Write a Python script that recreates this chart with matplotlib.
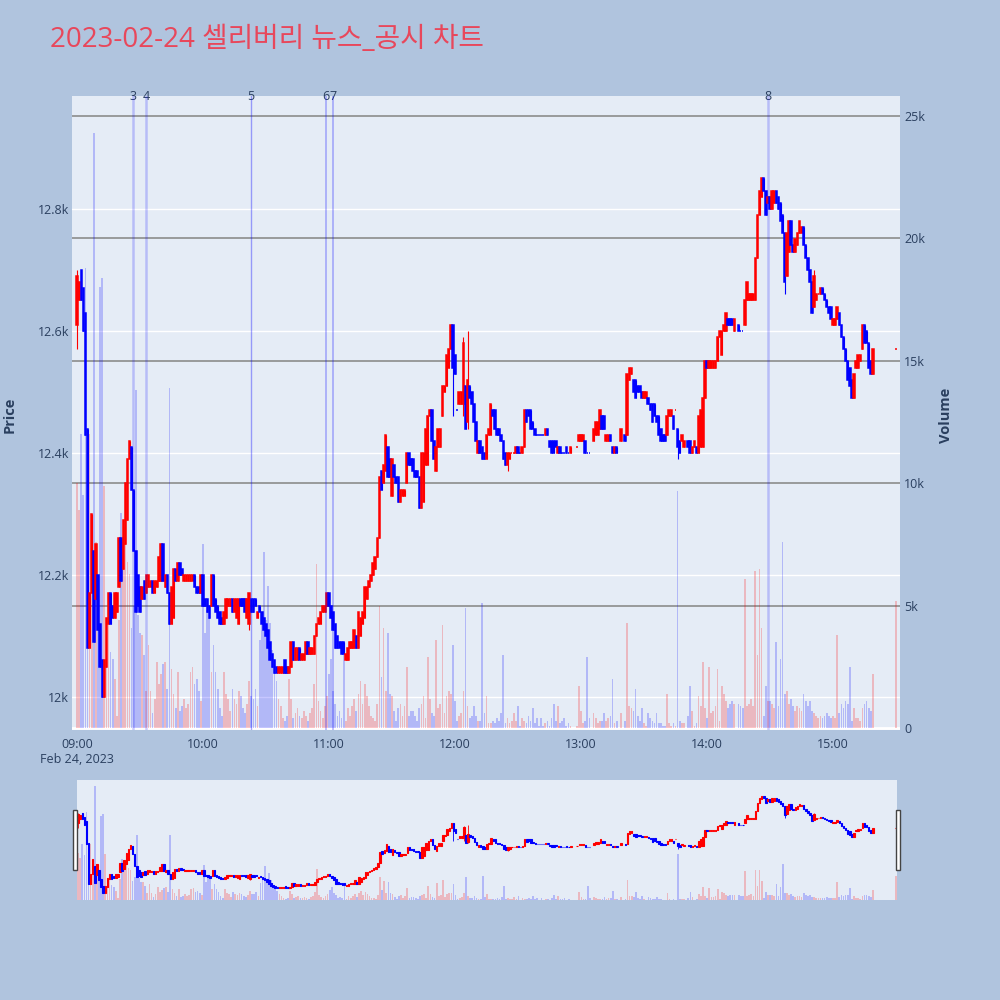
import matplotlib.pyplot as plt
import matplotlib.transforms as mtransforms
from matplotlib.patches import Rectangle

plt.rcParams['font.family'] = ['Open Sans', 'Noto Sans CJK KR', 'DejaVu Sans']

title = '2023-02-24 셀리버리 뉴스_공시 차트'

# minutes after 09:00, one-minute candles (15:30 closing auction at the end)
minutes = list(range(380)) + [390]

opens = [
    12610, 12650, 12700, 12670, 12630, 12440, 12080, 12170, 12240, 12160,
    12200, 12120, 12060, 12000, 12050, 12120, 12170, 12150, 12130, 12140,
    12180, 12260, 12210, 12250, 12290, 12390, 12410, 12340, 12240, 12200,
    12180, 12160, 12190, 12170, 12180, 12180, 12190, 12170, 12180, 12190,
    12190, 12250, 12180, 12200, 12170, 12120, 12130, 12210, 12190, 12220,
    12210, 12190, 12190, 12190, 12190, 12190, 12200, 12180, 12180, 12170,
    12200, 12160, 12160, 12150, 12150, 12200, 12160, 12150, 12140, 12130,
    12120, 12130, 12150, 12150, 12160, 12140, 12130, 12120, 12160, 12160,
    12160, 12130, 12120, 12160, 12160, 12160, 12130, 12150, 12140, 12130,
    12120, 12110, 12090, 12070, 12060, 12050, 12040, 12040, 12040, 12060,
    12050, 12040, 12050, 12090, 12060, 12060, 12080, 12060, 12060, 12070,
    12090, 12070, 12070, 12070, 12100, 12120, 12120, 12140, 12140, 12150,
    12170, 12150, 12140, 12120, 12100, 12090, 12090, 12090, 12060, 12060,
    12080, 12080, 12080, 12100, 12080, 12100, 12120, 12130, 12160, 12180,
    12190, 12200, 12210, 12230, 12260, 12370, 12350, 12370, 12410, 12390,
    12330, 12380, 12360, 12360, 12320, 12330, 12330, 12350, 12400, 12390,
    12390, 12370, 12370, 12360, 12310, 12320, 12380, 12380, 12460, 12470,
    12420, 12370, 12410, 12410, 12460, 12500, 12510, 12540, 12570, 12610,
    12560, 12470, 12480, 12480, 12480, 12510, 12450, 12510, 12500, 12480,
    12450, 12400, 12420, 12410, 12400, 12390, 12430, 12430, 12470, 12470,
    12440, 12440, 12430, 12420, 12400, 12380, 12390, 12400, 12400, 12400,
    12410, 12400, 12400, 12410, 12470, 12470, 12470, 12450, 12440, 12430,
    12430, 12430, 12430, 12430, 12440, 12420, 12420, 12420, 12420, 12400,
    12410, 12400, 12400, 12410, 12400, 12400, None, None, 12410, 12420,
    12420, 12420, 12420, 12400, 12400, None, 12420, 12430, 12430, 12440,
    12460, 12460, 12420, 12420, 12430, 12410, 12400, 12410, None, 12420,
    None, 12430, 12430, 12520, 12530, 12520, 12520, 12510, 12510, 12500,
    12490, 12490, 12490, 12480, 12480, 12480, 12460, 12460, 12440, 12430,
    12430, 12430, 12460, 12460, 12460, 12470, 12440, 12420, 12420, 12410,
    None, 12420, 12420, 12400, 12410, 12410, 12400, 12410, 12410, 12490,
    12550, 12540, 12540, 12540, 12540, 12550, 12590, 12560, 12600, 12600,
    12620, 12620, 12620, 12600, None, 12610, 12600, 12600, 12610, 12650,
    12650, 12650, 12650, 12650, 12720, 12790, 12820, 12850, 12830, 12810,
    12820, 12800, 12810, 12830, 12820, 12810, 12790, 12760, 12690, 12730,
    12780, 12740, 12730, 12740, 12760, 12760, 12770, 12740, 12720, 12700,
    12680, 12640, 12650, 12660, 12660, 12670, 12660, 12650, 12640, 12640,
    12610, 12610, 12620, 12630, 12610, 12590, 12570, 12550, 12540, 12520,
    12490, 12540, 12540, 12550, 12570, 12610, 12600, 12580, 12550, 12530,
    12570,
]

closes = [
    12690, 12680, 12650, 12600, 12430, 12080, 12170, 12300, 12090, 12250,
    12110, 12050, 12000, 12060, 12130, 12170, 12120, 12130, 12170, 12170,
    12260, 12190, 12290, 12350, 12390, 12420, 12340, 12240, 12140, 12150,
    12140, 12180, 12160, 12200, 12200, 12190, 12170, 12190, 12190, 12230,
    12250, 12190, 12200, 12170, 12120, 12180, 12210, 12190, 12220, 12200,
    12200, 12200, 12200, 12200, 12200, 12200, 12180, 12170, 12170, 12200,
    12150, 12150, 12140, 12130, 12200, 12150, 12140, 12130, 12120, 12120,
    12140, 12160, 12160, 12160, 12140, 12160, 12160, 12160, 12150, 12150,
    12140, 12160, 12170, 12140, 12140, 12150, 12140, 12140, 12120, 12110,
    12100, 12080, 12060, 12050, 12040, 12040, 12050, 12050, 12050, 12040,
    12040, 12050, 12090, 12060, 12080, 12080, 12060, 12070, 12070, 12090,
    12070, 12080, 12080, 12100, 12120, 12130, 12140, 12150, 12150, 12170,
    12150, 12130, 12110, 12080, 12080, 12080, 12070, 12070, 12070, 12080,
    12090, 12090, 12110, 12080, 12140, 12130, 12140, 12180, 12180, 12190,
    12200, 12220, 12230, 12260, 12360, 12340, 12380, 12430, 12360, 12360,
    12390, 12360, 12350, 12320, 12340, 12340, 12340, 12400, 12380, 12380,
    12370, 12360, 12360, 12310, 12400, 12400, 12440, 12460, 12470, 12420,
    12390, 12410, 12440, 12440, 12510, 12510, 12560, 12570, 12610, 12540,
    12530, 12470, 12500, 12500, 12580, 12440, 12520, 12490, 12480, 12450,
    12420, 12420, 12400, 12390, 12390, 12430, 12440, 12480, 12460, 12440,
    12430, 12430, 12420, 12390, 12380, 12400, 12400, 12400, 12400, 12410,
    12400, 12400, 12410, 12470, 12450, 12460, 12440, 12440, 12430, 12430,
    12430, 12430, 12430, 12440, 12430, 12410, 12400, 12400, 12410, 12410,
    12400, 12400, 12400, 12400, 12400, 12410, None, None, 12410, 12430,
    12430, 12430, 12400, 12400, 12400, None, 12440, 12450, 12450, 12470,
    12440, 12440, 12430, 12430, 12420, 12400, 12410, 12400, None, 12440,
    None, 12420, 12530, 12540, 12540, 12500, 12490, 12500, 12500, 12490,
    12500, 12500, 12480, 12470, 12450, 12460, 12450, 12430, 12420, 12420,
    12420, 12460, 12470, 12470, 12440, 12470, 12410, 12400, 12430, 12420,
    None, 12410, 12400, 12410, 12420, 12400, 12460, 12470, 12490, 12550,
    12540, 12550, 12550, 12550, 12550, 12590, 12600, 12600, 12610, 12630,
    12610, 12610, 12610, 12620, None, 12600, 12600, 12600, 12650, 12680,
    12660, 12660, 12660, 12720, 12790, 12830, 12850, 12830, 12790, 12820,
    12800, 12830, 12830, 12810, 12800, 12780, 12760, 12680, 12760, 12780,
    12740, 12730, 12750, 12760, 12780, 12770, 12740, 12720, 12700, 12680,
    12630, 12690, 12660, 12660, 12670, 12660, 12650, 12640, 12630, 12620,
    12620, 12620, 12640, 12610, 12590, 12570, 12550, 12520, 12510, 12490,
    12530, 12550, 12560, 12560, 12610, 12580, 12580, 12540, 12530, 12570,
    12570,
]

volumes = [
    10000, 8900, 12000, 9500, 18800, 6000, 12000, 6500, 24300, 7600,
    5000, 18000, 18400, 9900, 3000, 4700, 3100, 2800, 2000, 500,
    4400, 8800, 7700, 8200, 6800, 6300, 4100, 5000, 13800, 4600,
    3900, 3800, 3000, 1500, 3400, 1500, 600, 1200, 2700, 1800,
    2200, 2600, 2700, 1600, 13900, 2400, 1400, 800, 2300, 700,
    900, 1200, 800, 1000, 2300, 2500, 1800, 2000, 1500, 1100,
    7500, 3900, 4800, 4500, 2300, 3400, 2300, 1600, 800, 500,
    2300, 1400, 1200, 700, 1600, 1200, 1000, 1500, 1300, 800,
    600, 1000, 1900, 1300, 1200, 1600, 900, 3600, 4200, 7200,
    4400, 5800, 4300, 3200, 2500, 1900, 1200, 900, 400, 300,
    500, 2000, 1200, 400, 600, 800, 500, 400, 700, 500,
    300, 600, 800, 1800, 6700, 1100, 700, 400, 900, 1300,
    2200, 2800, 1500, 1000, 500, 700, 400, 3500, 300, 800,
    500, 900, 1200, 700, 1400, 1900, 1000, 1800, 1300, 900,
    500, 400, 300, 1000, 5000, 2100, 4100, 1500, 3900, 1400,
    1300, 700, 300, 800, 1000, 500, 900, 2500, 500, 700,
    700, 500, 300, 800, 1000, 1300, 400, 2900, 1200, 600,
    500, 3600, 800, 1000, 4200, 600, 1300, 1500, 1400, 3400,
    1100, 300, 500, 600, 1500, 4900, 900, 400, 500, 900,
    500, 300, 300, 5100, 600, 1300, 200, 200, 300, 200,
    400, 300, 600, 3000, 200, 400, 200, 300, 600, 300,
    900, 100, 400, 300, 200, 500, 300, 800, 200, 400,
    100, 400, 100, 200, 300, 100, 400, 1000, 300, 900,
    200, 300, 400, 100, 200, 100, None, None, 100, 1700,
    700, 200, 300, 2900, 400, None, 600, 400, 200, 300,
    300, 600, 300, 400, 500, 2000, 200, 300, None, 600,
    None, 300, 4300, 900, 800, 700, 1600, 500, 300, 800,
    200, 100, 600, 400, 300, 200, 600, 200, 200, 100,
    100, 1400, 200, 100, 200, 100, 9700, 300, 200, 200,
    None, 500, 1700, 700, 100, 200, 1300, 900, 2700, 800,
    400, 2500, 600, 700, 900, 2400, 300, 1700, 1400, 1100,
    800, 1000, 1100, 1000, None, 1000, 900, 800, 6100, 900,
    1000, 1200, 900, 6400, 3000, 6500, 4100, 500, 1700, 1100,
    1100, 1000, 800, 3500, 900, 2800, 7600, 1400, 1500, 1000,
    1200, 900, 700, 900, 800, 700, 1400, 1100, 900, 1100,
    700, 600, 500, 400, 500, 400, 500, 600, 500, 400,
    500, 400, 3800, 600, 1000, 800, 1100, 1000, 2500, 300,
    800, 400, 400, 300, 800, 1000, 1100, 800, 700, 2200,
    5200,
]

# wicks that reach past the body
wick_high = {0: 12700, 82: 12170, 179: 12610, 184: 12590, 186: 12600, 351: 12700}
wick_low = {0: 12570, 82: 12110, 179: 12460, 184: 12460, 186: 12440,
            205: 12370, 286: 12390, 337: 12660}

# news / disclosure markers (minutes after 09:00)
news_minutes = [26.7, 32.9, 82.9, 118.6, 121.9, 329.0]
news_labels = ['3', '4', '5', '6', '7', '8']
news_alpha = [0.2, 0.2, 0.35, 0.25, 0.25, 0.2]
news_width = [1.8, 1.8, 1.0, 1.4, 1.4, 1.8]

price_ticks = [12000, 12200, 12400, 12600, 12800]
price_labels = ['12k', '12.2k', '12.4k', '12.6k', '12.8k']
vol_ticks = [0, 5000, 10000, 15000, 20000, 25000]
vol_labels = ['0', '5k', '10k', '15k', '20k', '25k']
time_ticks = [0, 60, 120, 180, 240, 300, 360]
time_labels = ['09:00\nFeb 24, 2023', '10:00', '11:00', '12:00', '13:00', '14:00', '15:00']

RED = '#ff0000'
BLUE = '#0000ff'
TXT = '#2a3f5f'

# candle direction (plotly style: equal open/close looks at previous close)
xs, o_, c_, hi, lo, vol, cols = [], [], [], [], [], [], []
prev_c, prev_up = None, True
for m, o, c, v in zip(minutes, opens, closes, volumes):
    if o is None:
        continue
    if c > o:
        up = True
    elif c < o:
        up = False
    elif prev_c is not None and c != prev_c:
        up = c > prev_c
    else:
        up = prev_up
    xs.append(m)
    o_.append(o)
    c_.append(c)
    hi.append(max(o, c, wick_high.get(m, 0)))
    lo.append(min(o, c, wick_low.get(m, 10 ** 6)))
    vol.append(v)
    cols.append(RED if up else BLUE)
    prev_c, prev_up = c, up

bottoms = [min(a, b) for a, b in zip(o_, c_)]
heights = [abs(a - b) for a, b in zip(o_, c_)]


def draw(ax_v, ax_p, body_lw, wick_lw, vol_w):
    ax_v.bar(xs, vol, width=vol_w, color=cols, alpha=0.22, linewidth=0, zorder=1)
    ax_p.vlines(xs, lo, hi, colors=cols, linewidth=wick_lw, zorder=2)
    ax_p.bar(xs, heights, bottom=bottoms, width=0.7, color=cols,
             edgecolor=cols, linewidth=body_lw, zorder=3)


fig = plt.figure(figsize=(10, 10), dpi=100, facecolor='#b0c4de')

# main chart: volume axes underneath, price twin on top
ax = fig.add_axes([0.072, 0.270, 0.828, 0.634])
ax.set_facecolor('#e5ecf6')
ax.set_xlim(-2.4, 391.9)
ax.set_ylim(-82, 25817)
axp = ax.twinx()
axp.set_ylim(11946, 12985)

blend = mtransforms.blended_transform_factory(ax.transAxes, axp.transData)
for p in price_ticks:
    ax.plot([0, 1], [p, p], transform=blend, color='white', lw=1.0, zorder=0.5)
for v in vol_ticks[1:]:
    ax.axhline(v, color='#8c8c8c', lw=1.2, zorder=0.6)
ax.axhline(0, color='white', lw=2, zorder=0.6)

draw(ax, axp, 1.1, 0.8, 0.8)

for m, lab, a, w in zip(news_minutes, news_labels, news_alpha, news_width):
    axp.axvline(m, color=BLUE, alpha=a, lw=w, zorder=4)
    axp.text(m, 1.0, lab, transform=axp.get_xaxis_transform(), ha='center',
             va='center', fontsize=9, color=TXT)

ax.yaxis.tick_right()
axp.yaxis.tick_left()
ax.set_yticks(vol_ticks)
ax.set_yticklabels(vol_labels)
axp.set_yticks(price_ticks)
axp.set_yticklabels(price_labels)
ax.set_xticks(time_ticks)
ax.set_xticklabels(time_labels)
ax.tick_params(axis='y', length=0, pad=3, labelsize=9, labelcolor=TXT)
axp.tick_params(axis='y', length=0, pad=2, labelsize=9, labelcolor=TXT)
ax.tick_params(axis='x', length=0, pad=6, labelsize=9, labelcolor=TXT)
for a in (ax, axp):
    for s in a.spines.values():
        s.set_visible(False)

fig.text(0.05, 0.96, title, fontsize=20, color='#e8475b', va='center', ha='left',
         family=['Open Sans', 'Noto Sans CJK KR'])
fig.text(0.010, 0.585, 'Price', rotation=90, fontsize=10.5, fontweight='bold',
         color=TXT, ha='center', va='center')
fig.text(0.946, 0.585, 'Volume', rotation=90, fontsize=10.5, fontweight='bold',
         color=TXT, ha='center', va='center')

# range slider
sax = fig.add_axes([0.077, 0.100, 0.820, 0.120])
sax.set_facecolor('#e5ecf6')
sax.set_xlim(-0.5, 390.5)
sax.set_ylim(0, 25580)
saxp = sax.twinx()
saxp.set_ylim(11939, 12990)
draw(sax, saxp, 0.8, 0.6, 0.8)
for a in (sax, saxp):
    a.set_xticks([])
    a.set_yticks([])
    for s in a.spines.values():
        s.set_visible(False)

for hx in (0.073, 0.896):
    fig.patches.append(Rectangle((hx, 0.130), 0.004, 0.060, transform=fig.transFigure,
                                 facecolor='white', edgecolor='#444444', lw=1.0))

fig.savefig('out.png', dpi=100, facecolor=fig.get_facecolor())
